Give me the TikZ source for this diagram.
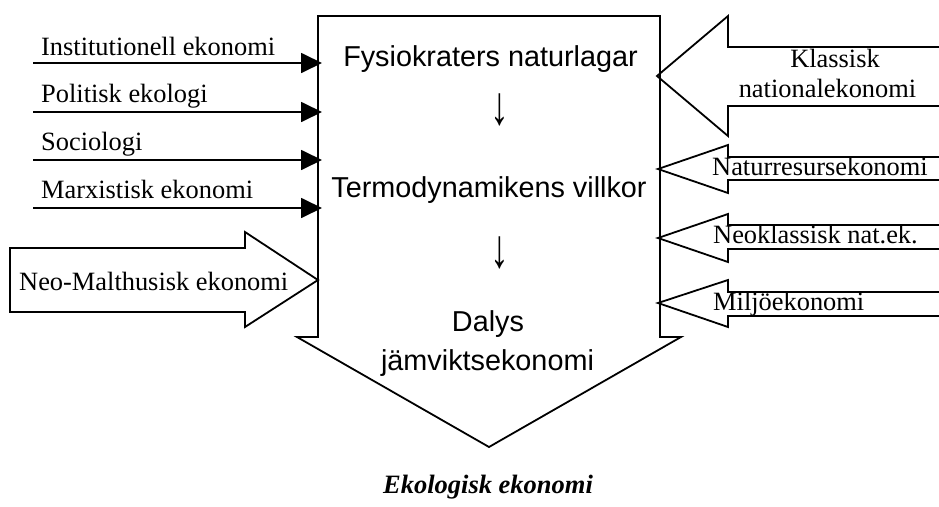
\documentclass[tikz,border=0pt]{standalone}
\usepackage{graphicx}
\usepackage{fontspec}
\setmainfont{Liberation Serif}
\setsansfont{Liberation Sans}
\usetikzlibrary{arrows.meta}
\newcommand{\stepdown}{\scalebox{1.3}[1.9]{↓}}
\begin{document}
\begin{tikzpicture}[x=1pt,y=-1pt,
  outline/.style={draw=black,line width=1.8pt,line join=miter},
  feed/.style={draw=black,line width=1.8pt,-{Triangle[length=21pt,width=20pt]}},
  serif/.style={font=\fontsize{26.4}{30}\selectfont,inner sep=0pt},
  sans/.style={font=\sffamily\fontsize{28.8}{33}\selectfont,inner sep=0pt},
  title/.style={font=\bfseries\itshape\fontsize{26.5}{30}\selectfont,inner sep=0pt}]
\useasboundingbox (0,0) rectangle (939,506);

% main downward block arrow
\draw[outline,fill=white] (318,16) -- (660,16) -- (660,337) -- (681,337)
  -- (489,447) -- (297,337) -- (318,337) -- cycle;
\coordinate (shaftW1) at (322,63);
\coordinate (shaftW2) at (322,112);
\coordinate (shaftW3) at (322,160);
\coordinate (shaftW4) at (322,208);

\node[sans,anchor=base] (fysio) at (490.5,66) {Fysiokraters naturlagar};
\node[sans,anchor=center] (down1) at (500,110) {\stepdown};
\node[sans,anchor=base] (termo) at (489,197) {Termodynamikens villkor};
\node[sans,anchor=center] (down2) at (500,253) {\stepdown};
\node[sans,anchor=base] (dalys) at (488,331) {Dalys};
\node[sans,anchor=base] (jamv) at (487.5,370) {jämviktsekonomi};

\node[title,anchor=base] (eko) at (488,493) {Ekologisk ekonomi};

% thin feeding lines from the left
\coordinate (inS) at (33,63);
\coordinate (poS) at (33,112);
\coordinate (soS) at (33,160);
\coordinate (maS) at (33,208);
\draw[feed] (inS) -- (shaftW1);
\draw[feed] (poS) -- (shaftW2);
\draw[feed] (soS) -- (shaftW3);
\draw[feed] (maS) -- (shaftW4);
\node[serif,anchor=base west] (inst) at (41,55) {Institutionell ekonomi};
\node[serif,anchor=base west] (polit) at (41,102) {Politisk ekologi};
\node[serif,anchor=base west] (socio) at (41,150) {Sociologi};
\node[serif,anchor=base west] (marx) at (41,198) {Marxistisk ekonomi};

% block arrow from the left
\draw[outline,fill=white] (10,248) -- (245,248) -- (245,232) -- (318,280)
  -- (245,327) -- (245,312) -- (10,312) -- cycle;
\node[serif,anchor=base west] (neomal) at (19,290) {Neo-Malthusisk ekonomi};

% block arrows from the right (open at the page edge)
\draw[outline] (939,47) -- (728,47) -- (728,16) -- (657,76) -- (728,136)
  -- (728,106) -- (939,106);
\node[serif,anchor=base] (klass) at (835,67) {Klassisk};
\node[serif,anchor=base] (natek) at (827.5,97) {nationalekonomi};

\draw[outline] (939,157) -- (728,157) -- (728,145) -- (658,169) -- (728,193)
  -- (728,180) -- (939,180);
\node[serif,anchor=base west] (natres) at (712,175) {Naturresursekonomi};

\draw[outline] (939,225) -- (728,225) -- (728,214) -- (658,238) -- (728,262)
  -- (728,249) -- (939,249);
\node[serif,anchor=base west] (neokl) at (713,243) {Neoklassisk nat.ek.};

\draw[outline] (939,292) -- (728,292) -- (728,280) -- (658,303) -- (728,327)
  -- (728,316) -- (939,316);
\node[serif,anchor=base west] (miljo) at (713,310) {Miljöekonomi};
\end{tikzpicture}
\end{document}
